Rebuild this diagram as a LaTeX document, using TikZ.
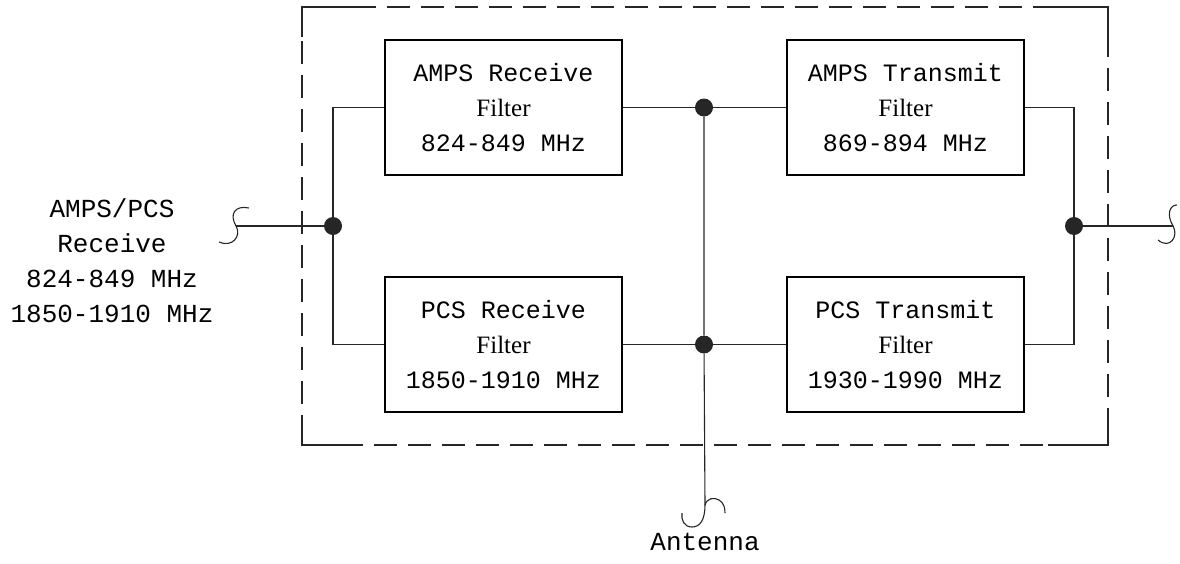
\documentclass[tikz,border=0pt]{standalone}
\usepackage{fontspec}
\setmainfont{Liberation Mono}
\newfontfamily\filterfont{Liberation Serif}
\begin{document}
\begin{tikzpicture}[x=1pt,y=-1pt,
  filterbox/.style={draw=black,line width=2.4pt,minimum width=237pt,minimum height=135pt,
    align=center,inner sep=0pt,font=\fontsize{25}{35}\selectfont},
  dot/.style={circle,fill=black!85,inner sep=0pt,minimum size=18pt},
  wire/.style={draw=black!85,line width=1.1pt},
  enclosure/.style={draw=black!85,line width=1.4pt,dash pattern=on 23pt off 11pt},
  label/.style={align=center,font=\fontsize{26}{35}\selectfont,inner sep=0pt}]
\useasboundingbox (0,0) rectangle (1180,563);
% enclosure
\draw[enclosure] (302,7) rectangle (1108,445);
\draw[wire,line width=1.4pt] (302,37) -- (302,7) -- (362,7);
\draw[wire,line width=1.4pt] (1048,7) -- (1108,7) -- (1108,37);
\draw[wire,line width=1.4pt] (302,417) -- (302,445) -- (362,445);
\draw[wire,line width=1.4pt] (1048,445) -- (1108,445) -- (1108,417);
% filters
\node[filterbox] (ar) at (503.5,107.5) {AMPS Receive\\{\filterfont Filter}\\824-849 MHz};
\node[filterbox] (pr) at (503.5,344.5) {PCS Receive\\{\filterfont Filter}\\1850-1910 MHz};
\node[filterbox] (at) at (905.5,107.5) {AMPS Transmit\\{\filterfont Filter}\\869-894 MHz};
\node[filterbox] (pt) at (905.5,344.5) {PCS Transmit\\{\filterfont Filter}\\1930-1990 MHz};
% junctions
\node[dot] (dl) at (333,226) {};
\node[dot] (dr) at (1074,226) {};
\node[dot] (dm1) at (704,107.5) {};
\node[dot] (dm2) at (704,344.5) {};
% hook coordinates
\coordinate (hl) at (236,226);
\coordinate (hr) at (1173,226);
\coordinate (ha) at (705,505);
% connectors
\draw[wire] (ar.west) -| (dl);
\draw[wire] (pr.west) -| (dl);
\draw[wire] (hl) -- (dl);
\draw[wire] (ar.east) -- (dm1) -- (at.west);
\draw[wire] (pr.east) -- (dm2) -- (pt.west);
\draw[wire] (dm1) -- (dm2) -- (ha);
\draw[wire] (at.east) -| (dr);
\draw[wire] (pt.east) -| (dr);
\draw[wire] (dr) -- (hr);
% hooks
\draw[wire] (hl) .. controls (229,214) and (235,205) .. (249,208);
\draw[wire] (hl) .. controls (242,236) and (232,248) .. (219,242);
\draw[wire] (hr) .. controls (1166,214) and (1170,205) .. (1177,205);
\draw[wire] (hr) .. controls (1179,236) and (1170,250) .. (1158,240);
\draw[wire] (ha) .. controls (705,520) and (700,527) .. (692,527) .. controls (684,527) and (681,520) .. (682,513);
\draw[wire] (ha) .. controls (707,498) and (714,497) .. (719,500) .. controls (724,503) and (725,508) .. (725,513);
% labels
\node[label,anchor=base] (inlab) at (112,322) {AMPS/PCS\\Receive\\824-849 MHz\\1850-1910 MHz};
\node[label,anchor=base] (antlab) at (705,550) {Antenna};
\end{tikzpicture}
\end{document}
